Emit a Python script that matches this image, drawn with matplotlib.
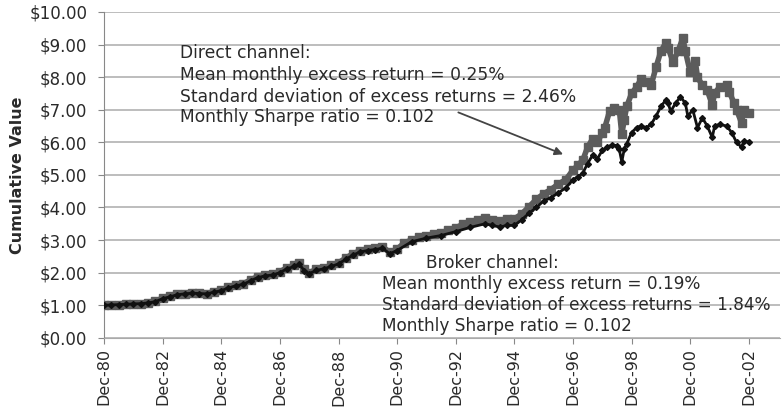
import pandas as pd
import matplotlib
matplotlib.use('Agg')
import matplotlib.pyplot as plt

# Cumulative value of $1 invested
direct_dates = [
    '1980-12', '1981-03', '1981-06', '1981-09', '1981-12', '1982-03', '1982-06', '1982-09',
    '1982-12', '1983-03', '1983-06', '1983-09', '1983-12', '1984-03', '1984-06', '1984-09',
    '1984-12', '1985-03', '1985-06', '1985-09', '1985-12', '1986-03', '1986-06', '1986-09',
    '1986-12', '1987-03', '1987-06', '1987-08', '1987-10', '1987-12', '1988-03', '1988-06',
    '1988-09', '1988-12', '1989-03', '1989-06', '1989-09', '1989-12', '1990-03', '1990-06',
    '1990-09', '1990-12', '1991-03', '1991-06', '1991-09', '1991-12', '1992-03', '1992-06',
    '1992-09', '1992-12', '1993-03', '1993-06', '1993-09', '1993-12', '1994-03', '1994-06',
    '1994-09', '1994-12', '1995-03', '1995-06', '1995-09', '1995-12', '1996-03', '1996-06',
    '1996-09', '1996-12', '1997-02', '1997-04', '1997-06', '1997-08', '1997-10', '1997-12',
    '1998-01', '1998-03', '1998-05', '1998-07', '1998-08', '1998-09', '1998-10', '1998-12',
    '1999-02', '1999-04', '1999-06', '1999-08', '1999-10', '1999-12', '2000-02', '2000-03',
    '2000-05', '2000-07', '2000-09', '2000-10', '2000-12', '2001-02', '2001-03', '2001-05',
    '2001-07', '2001-09', '2001-10', '2001-12', '2002-03', '2002-04', '2002-06', '2002-07',
    '2002-09', '2002-10', '2002-12',
]
direct_values = [
    1.00, 1.01, 1.02, 1.03, 1.04, 1.05, 1.08, 1.12,
    1.22, 1.28, 1.34, 1.36, 1.38, 1.37, 1.36, 1.42,
    1.47, 1.55, 1.62, 1.66, 1.78, 1.88, 1.92, 1.95,
    2.03, 2.15, 2.22, 2.30, 2.10, 2.00, 2.10, 2.15,
    2.22, 2.30, 2.45, 2.58, 2.68, 2.72, 2.75, 2.80,
    2.62, 2.72, 2.92, 3.00, 3.08, 3.12, 3.18, 3.22,
    3.30, 3.38, 3.48, 3.55, 3.62, 3.68, 3.62, 3.58,
    3.66, 3.65, 3.80, 4.02, 4.25, 4.42, 4.55, 4.72,
    4.85, 5.15, 5.30, 5.45, 5.85, 6.10, 6.00, 6.30,
    6.45, 6.95, 7.05, 7.00, 6.25, 6.70, 7.10, 7.50,
    7.70, 7.95, 7.85, 7.75, 8.30, 8.80, 9.05, 8.90,
    8.45, 8.80, 9.20, 8.80, 8.15, 8.50, 8.00, 7.75,
    7.60, 7.15, 7.50, 7.70, 7.75, 7.55, 7.20, 7.00,
    6.60, 7.00, 6.90,
]

broker_dates = [
    '1980-12', '1981-03', '1981-06', '1981-09', '1981-12', '1982-03', '1982-06', '1982-09',
    '1982-12', '1983-03', '1983-06', '1983-09', '1983-12', '1984-03', '1984-06', '1984-09',
    '1984-12', '1985-03', '1985-06', '1985-09', '1985-12', '1986-03', '1986-06', '1986-09',
    '1986-12', '1987-03', '1987-06', '1987-08', '1987-10', '1987-12', '1988-03', '1988-06',
    '1988-09', '1988-12', '1989-03', '1989-06', '1989-09', '1989-12', '1990-03', '1990-06',
    '1990-09', '1990-12', '1991-06', '1991-12', '1992-06', '1992-12', '1993-06', '1993-12',
    '1994-03', '1994-06', '1994-09', '1994-12', '1995-03', '1995-06', '1995-09', '1995-12',
    '1996-03', '1996-06', '1996-09', '1996-12', '1997-02', '1997-04', '1997-06', '1997-08',
    '1997-10', '1997-12', '1998-02', '1998-04', '1998-06', '1998-07', '1998-08', '1998-09',
    '1998-10', '1998-12', '1999-02', '1999-04', '1999-06', '1999-08', '1999-10', '1999-12',
    '2000-02', '2000-03', '2000-04', '2000-06', '2000-08', '2000-10', '2000-11', '2001-01',
    '2001-03', '2001-05', '2001-07', '2001-09', '2001-10', '2001-12', '2002-03', '2002-05',
    '2002-07', '2002-09', '2002-10', '2002-12',
]
broker_values = [
    1.00, 1.01, 1.02, 1.03, 1.04, 1.05, 1.07, 1.11,
    1.20, 1.26, 1.32, 1.35, 1.37, 1.36, 1.35, 1.40,
    1.45, 1.53, 1.60, 1.64, 1.75, 1.85, 1.90, 1.93,
    2.00, 2.12, 2.19, 2.26, 2.06, 1.97, 2.07, 2.12,
    2.19, 2.27, 2.41, 2.54, 2.64, 2.68, 2.71, 2.75,
    2.58, 2.68, 2.95, 3.06, 3.14, 3.26, 3.39, 3.50,
    3.45, 3.40, 3.45, 3.45, 3.62, 3.82, 4.00, 4.20,
    4.30, 4.45, 4.60, 4.85, 4.95, 5.05, 5.35, 5.60,
    5.50, 5.75, 5.85, 5.92, 5.90, 5.78, 5.40, 5.80,
    5.95, 6.30, 6.45, 6.50, 6.45, 6.55, 6.80, 7.10,
    7.30, 7.20, 6.95, 7.20, 7.40, 7.20, 6.80, 7.00,
    6.45, 6.75, 6.50, 6.15, 6.50, 6.55, 6.50, 6.30,
    6.00, 5.85, 6.05, 6.00,
]

tick_years = list(range(1980, 2003, 2))
tick_labels = [f'Dec-{y % 100:02d}' for y in tick_years]

direct_lines = ['Direct channel:',
                'Mean monthly excess return = 0.25%',
                'Standard deviation of excess returns = 2.46%',
                'Monthly Sharpe ratio = 0.102']
broker_lines = ['Broker channel:',
                'Mean monthly excess return = 0.19%',
                'Standard deviation of excess returns = 1.84%',
                'Monthly Sharpe ratio = 0.102']

direct = pd.Series(direct_values, index=pd.to_datetime(direct_dates))
broker = pd.Series(broker_values, index=pd.to_datetime(broker_dates))

plt.rcParams['font.family'] = ['DejaVu Sans']
txt_color = '#2a2a2a'

fig = plt.figure(figsize=(7.82, 4.13), dpi=100)
ax = fig.add_axes([0.133, 0.182, 0.864, 0.789])

ax.plot(direct.index, direct.values, color='#5c5c5c', linewidth=4.0,
        marker='s', markersize=6, zorder=3)
ax.plot(broker.index, broker.values, color='#111111', linewidth=2.0,
        marker='D', markersize=3, zorder=4)

ax.set_ylim(0, 10)
ax.set_yticks(range(0, 11))
ax.set_yticklabels([f'${v:.2f}' for v in range(0, 11)], fontsize=12, color=txt_color)
ax.yaxis.grid(True, color='#b8b8b8', linewidth=1.3)
ax.set_axisbelow(True)

ax.set_xlim(pd.Timestamp('1980-12-01'), pd.Timestamp('2003-12-20'))
ax.set_xticks([pd.Timestamp(f'{y}-12-01') for y in tick_years])
ax.set_xticklabels(tick_labels, rotation=90, fontsize=11.5, color=txt_color)
ax.tick_params(axis='both', length=4, color='#888888', direction='out')
ax.tick_params(axis='y', pad=8)

for side in ['top', 'right']:
    ax.spines[side].set_visible(False)
ax.spines['left'].set_color('#888888')
ax.spines['bottom'].set_color('#aaaaaa')

ax.set_ylabel('Cumulative Value', fontsize=11.5, fontweight='bold', color=txt_color,
              labelpad=3)

# annotation blocks, one line at a time
direct_y = [8.74, 8.07, 7.39, 6.78]
for line, y in zip(direct_lines, direct_y):
    ax.text(pd.Timestamp('1983-07-01'), y, line, fontsize=12.3, color=txt_color,
            va='center', ha='left')

broker_y = [2.30, 1.66, 1.01, 0.37]
broker_x = ['1991-12-01', '1990-06-01', '1990-06-01', '1990-06-01']
for line, x, y in zip(broker_lines, broker_x, broker_y):
    ax.text(pd.Timestamp(x), y, line, fontsize=12.2, color=txt_color,
            va='center', ha='left')

ax.annotate('', xy=(pd.Timestamp('1996-09-01'), 5.6),
            xytext=(pd.Timestamp('1992-12-01'), 6.95),
            arrowprops=dict(arrowstyle='-|>', color='#444444', lw=1.3,
                            mutation_scale=12))

plt.savefig('out.png', dpi=100)
